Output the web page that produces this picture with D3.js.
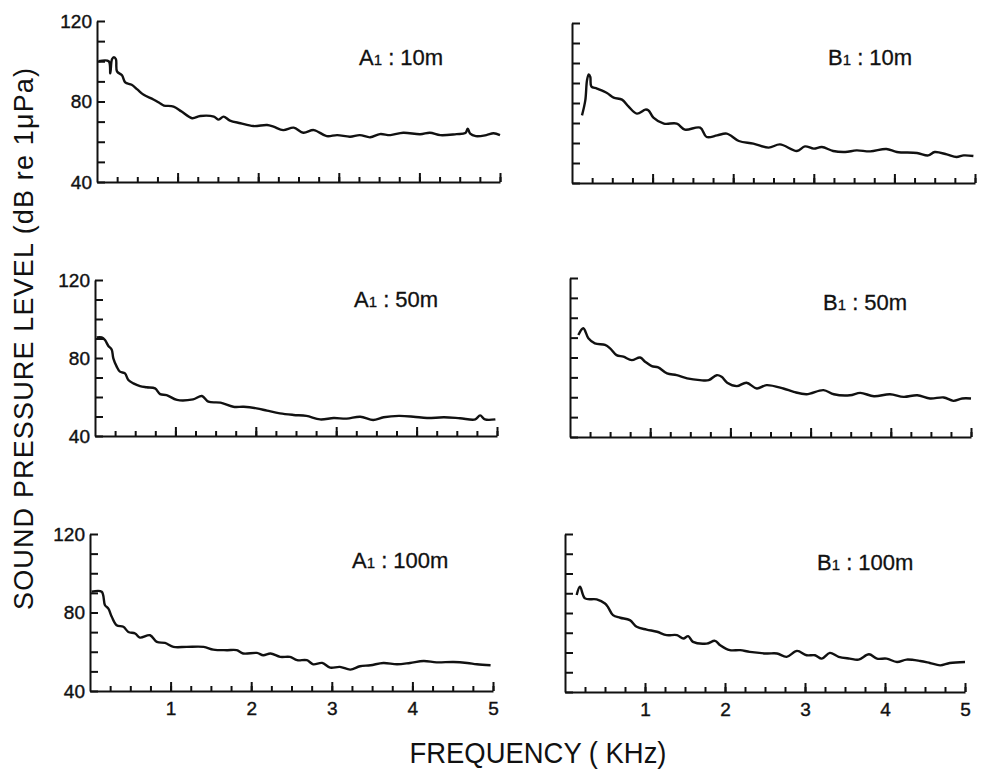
<!DOCTYPE html>
<html>
<head>
<meta charset="utf-8">
<script src="https://cdn.jsdelivr.net/npm/d3@7"></script>
<style>
  body { margin: 0; background: #fff; }
  svg { display: block; }
  text { font-family: "Liberation Sans", Arial, sans-serif; fill: #111; }
</style>
</head>
<body>
<svg id="chart" width="981" height="773"></svg>
<script>
// spectra: [frequency kHz, level dB re 1uPa]
var a10 = [[0.02,100],[0.145,100],[0.165,94],[0.186,101],[0.21,102],[0.235,101],[0.248,95],[0.31,93],
  [0.35,89.5],[0.43,88.3],[0.5,86],[0.58,83.3],[0.7,81],[0.785,79],[0.83,78],[0.95,77.5],[1.05,75],
  [1.18,71.7],[1.28,72.8],[1.45,72.5],[1.51,71],[1.57,72.5],[1.65,70.5],[1.78,69.2],[1.94,67.8],
  [2.11,68.3],[2.19,67.5],[2.31,65.8],[2.44,67],[2.56,64.5],[2.69,65.8],[2.85,62.8],[2.98,63.3],
  [3.14,62.5],[3.26,63.3],[3.39,62.2],[3.51,63.8],[3.64,63.3],[3.8,64.5],[4.01,63.7],[4.13,64.5],
  [4.26,63.3],[4.46,63.8],[4.57,64.3],[4.6,66.5],[4.63,64],[4.7,62.8],[4.83,63.3],[4.92,64.2],[5.0,63.3]];
var b10 = [[0.124,73.8],[0.165,81.3],[0.186,91.3],[0.207,94.3],[0.227,93],[0.24,88.3],[0.31,87.2],
  [0.434,85],[0.517,82.7],[0.62,81.7],[0.7,78.3],[0.806,74.7],[0.91,76.7],[0.95,76.3],[1.01,72.7],
  [1.14,69.7],[1.3,69.7],[1.4,66.7],[1.59,67.7],[1.67,63],[1.8,63.8],[1.92,64.7],[2.07,61],[2.25,59.7],
  [2.44,57.7],[2.58,59.3],[2.79,56],[2.89,58.3],[3.0,57.2],[3.1,58],[3.24,56],[3.39,55.5],[3.53,56.3],
  [3.7,55.8],[3.9,57],[4.03,55.5],[4.28,55],[4.42,53.8],[4.5,55.5],[4.65,54.3],[4.77,53],[4.86,53.8],[4.98,53.5]];
var a50 = [[0.02,90.6],[0.083,90.6],[0.124,89.2],[0.166,86.2],[0.207,84.4],[0.228,79.8],[0.27,75.6],
  [0.31,73],[0.373,72.1],[0.415,68.7],[0.477,67],[0.56,65.6],[0.643,65],[0.747,64.4],[0.81,61.5],
  [0.89,61],[1.02,58.5],[1.22,58.8],[1.33,60.5],[1.41,57.6],[1.56,57.1],[1.72,55],[1.85,55],[2.01,54.2],
  [2.14,53],[2.3,51.6],[2.47,50.8],[2.63,50.3],[2.8,48.5],[2.97,49.2],[3.13,48.9],[3.3,49.9],[3.46,48.2],
  [3.59,49.6],[3.78,50.3],[3.96,49.9],[4.13,49.2],[4.34,49.6],[4.54,49.1],[4.73,48.5],[4.79,50.6],
  [4.85,48.5],[4.98,48.5]];
var b50 = [[0.104,91.3],[0.166,94.7],[0.229,89.7],[0.31,87.1],[0.437,86.3],[0.5,84.6],[0.58,81.2],
  [0.666,80.4],[0.77,78.7],[0.874,80],[0.936,77.9],[1.02,75.7],[1.1,75],[1.21,72],[1.33,71.1],[1.46,69.5],
  [1.62,68.6],[1.73,68.6],[1.83,71.1],[1.89,70.3],[1.96,67.3],[2.08,65.6],[2.2,67.3],[2.33,64.4],
  [2.45,66.1],[2.66,64.4],[2.79,62.7],[2.95,61.5],[3.16,63.6],[3.29,61.5],[3.49,61],[3.62,62.2],
  [3.79,60.5],[3.99,61.5],[4.16,60.2],[4.33,61],[4.49,59.4],[4.66,59.9],[4.78,58.2],[4.89,59.4],[5.0,59.4]];
var a100 = [[0.02,90.6],[0.145,90.6],[0.186,83.7],[0.228,82],[0.27,77.8],[0.33,73.5],[0.414,72.7],
  [0.476,70.1],[0.56,69.3],[0.62,67.2],[0.745,68.4],[0.83,65],[0.93,64.5],[1.035,62.5],[1.2,62.5],
  [1.41,62.5],[1.53,61.1],[1.7,60.8],[1.82,60.8],[1.9,59.1],[2.07,59.4],[2.15,58.2],[2.24,59.1],
  [2.36,57.4],[2.48,57.4],[2.57,55.7],[2.69,55.7],[2.77,53.6],[2.88,54.3],[2.98,51.9],[3.1,52.3],
  [3.23,50.9],[3.35,52.6],[3.48,53.1],[3.64,54.3],[3.81,53.6],[3.97,54.3],[4.14,55.3],[4.3,54.6],
  [4.51,54.8],[4.68,54.3],[4.8,53.6],[4.97,53.1]];
var b100 = [[0.146,89.1],[0.1875,93.3],[0.25,87.4],[0.396,86.9],[0.5,84.8],[0.54,82.8],[0.6,78.9],
  [0.69,77.6],[0.81,76.4],[0.896,73],[1.02,71.6],[1.15,70.5],[1.27,68.8],[1.4,68.8],[1.48,67.1],
  [1.54,68.3],[1.6,65.4],[1.77,64.5],[1.875,65.9],[1.94,63.7],[2.06,61.2],[2.19,61.2],[2.31,60.3],
  [2.52,59.5],[2.65,59.5],[2.77,57.8],[2.9,60.8],[3.02,58.6],[3.125,58.6],[3.21,56.9],[3.31,59.8],
  [3.42,57.8],[3.56,56.9],[3.67,56.4],[3.8,59.1],[3.9,56.9],[4.02,56.9],[4.15,55.2],[4.27,56.4],
  [4.44,55.7],[4.56,54.7],[4.69,53.5],[4.81,54.7],[5.0,55.2]];

var sites = ["A", "B"];
var depths = ["10m", "50m", "100m"];
var yTicks = [40, 50, 60, 70, 80, 90, 100, 110, 120];
var yLabelled = [40, 80, 120];
var xMinor = d3.range(0, 5.001, 0.25);
var xMajor = [1, 2, 3, 4, 5];

var series = [[a10, b10], [a50, b50], [a100, b100]];

// panel frames (slightly skewed like the scanned figure)
var frames = [
  [{l: 97, r: 500, t: 21, b: 182}, {l: 572, r: 975, t: 23, b: 183}],
  [{l: 95, r: 497, t: 280, b: 436}, {l: 570, r: 971, t: 278, b: 437}],
  [{l: 90, r: 493, t: 534, b: 691}, {l: 565, r: 965, t: 534, b: 692}]
];
var tagPos = [
  [[359, 65], [828, 65]],
  [[354, 307], [823, 310]],
  [[352, 568], [817, 570]]
];

var svg = d3.select("#chart");

depths.forEach(function(depth, row) {
  sites.forEach(function(site, col) {
    var f = frames[row][col];
    var x = d3.scaleLinear().domain([0, 5]).range([f.l, f.r]);
    var y = d3.scaleLinear().domain([40, 120]).range([f.b, f.t]);
    var g = svg.append("g");

    // y axis, ticks pointing inward
    var ya = g.append("g")
      .attr("transform", "translate(" + f.l + ",0)")
      .call(d3.axisLeft(y).tickValues(yTicks).tickSize(-8).tickSizeOuter(0).tickPadding(5)
        .tickFormat(function(d) { return (col == 0 && yLabelled.indexOf(d) >= 0) ? d : ""; }));

    // x axis minor + major ticks
    var xa = g.append("g")
      .attr("transform", "translate(0," + f.b + ")")
      .call(d3.axisBottom(x).tickValues(xMinor.filter(function(d) { return d > 0; }))
        .tickSize(-5).tickSizeOuter(0).tickFormat(""));
    var xb = g.append("g")
      .attr("transform", "translate(0," + f.b + ")")
      .call(d3.axisBottom(x).tickValues(xMajor).tickSize(-9).tickSizeOuter(0).tickPadding(11)
        .tickFormat(function(d) { return row == 2 ? d : ""; }));
    xb.select(".domain").remove();

    [ya, xa, xb].forEach(function(a) {
      a.selectAll("path, line").attr("stroke", "#111").attr("stroke-width", 2);
      a.selectAll("text").attr("font-size", 19).attr("fill", "#111")
        .attr("stroke", "#111").attr("stroke-width", 0.4)
        .attr("font-family", "Liberation Sans, Arial, sans-serif");
    });

    g.append("path")
      .datum(series[row][col])
      .attr("fill", "none")
      .attr("stroke", "#111")
      .attr("stroke-width", 2.4)
      .attr("stroke-linejoin", "round")
      .attr("d", d3.line()
        .x(function(d) { return x(d[0]); })
        .y(function(d) { return y(d[1]); })
        .curve(d3.curveCatmullRom));

    var tag = g.append("text")
      .attr("x", tagPos[row][col][0])
      .attr("y", tagPos[row][col][1])
      .attr("font-size", 22)
      .attr("stroke", "#111").attr("stroke-width", 0.3);
    tag.append("tspan").text(site);
    tag.append("tspan").attr("font-size", 15).text("1");
    tag.append("tspan").text(" : " + depth);
  });
});

// axis titles
svg.append("text")
  .attr("transform", "translate(33,339) rotate(-90)")
  .attr("text-anchor", "middle")
  .attr("font-size", 27)
  .attr("textLength", 542)
  .attr("lengthAdjust", "spacing")
  .text("SOUND  PRESSURE  LEVEL (dB re 1μPa)");

svg.append("text")
  .attr("x", 538)
  .attr("y", 763)
  .attr("text-anchor", "middle")
  .attr("font-size", 30)
  .attr("textLength", 257)
  .attr("lengthAdjust", "spacingAndGlyphs")
  .text("FREQUENCY ( KHz)");
</script>
</body>
</html>
